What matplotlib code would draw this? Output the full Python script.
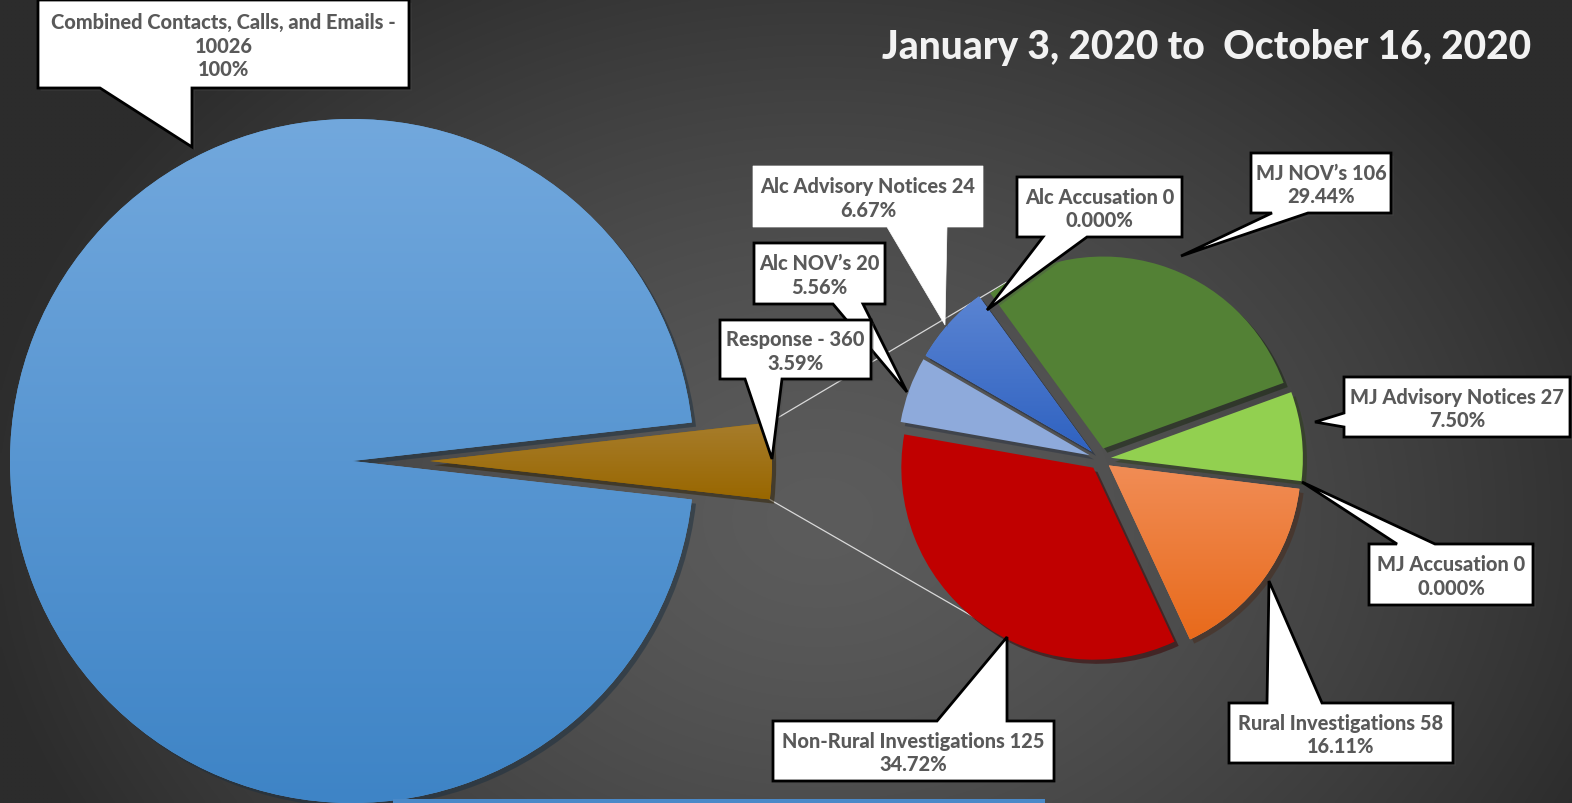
import numpy as np
import matplotlib
matplotlib.use("Agg")
import matplotlib.pyplot as plt
from matplotlib.patches import Polygon, Rectangle
from matplotlib.colors import LinearSegmentedColormap
import matplotlib.patheffects as pe

# --- data ---
title = "January 3, 2020 to  October 16, 2020"
combined_name = "Combined Contacts, Calls, and Emails -"
combined_total = 10026
response_name = "Response"
response_total = 360

small_names = ["Non-Rural Investigations", "Rural Investigations", "MJ Accusation",
               "MJ Advisory Notices", "MJ NOV\u2019s", "Alc Accusation",
               "Alc Advisory Notices", "Alc NOV\u2019s"]
small_values = [125, 58, 0, 27, 106, 0, 24, 20]
small_colors = ["#c00000", ("#f18d56", "#e86a1b"), "#a5a5a5", "#92d050", "#538135",
                "#70ad47", ("#5a84d2", "#2f62c1"), "#8eaadb"]

W, H = 1572, 804
FONT = "Lato"
TXT = "#595959"


def Y(y):
    # image row -> data y
    return H - y


def grad_fill(ax, wedge, top, bottom, z):
    bb = wedge.get_path().get_extents()
    cmap = LinearSegmentedColormap.from_list("g", [bottom, top])
    im = ax.imshow(np.linspace(0, 1, 256)[:, None], extent=(bb.x0, bb.x1, bb.y0, bb.y1),
                   origin="lower", cmap=cmap, aspect="auto", zorder=z, interpolation="bilinear")
    im.set_clip_path(wedge)


def callout(ax, box, side, base, tip, text, border=True):
    # box, base and tip in image pixels (y down)
    x0, y0, x1, y1 = box
    a, b = base
    pts = [(x0, y0)]
    if side == "top":
        pts += [(a, y0), tip, (b, y0)]
    pts += [(x1, y0), (x1, y1)]
    if side == "bottom":
        pts += [(b, y1), tip, (a, y1)]
    pts += [(x0, y1)]
    if side == "left":
        pts += [(x0, b), tip, (x0, a)]
    pts = [(px, Y(py)) for px, py in pts]
    poly = Polygon(pts, closed=True, facecolor="white",
                   edgecolor="black" if border else "white",
                   linewidth=2.0 if border else 0.5, zorder=10, joinstyle="miter")
    poly.set_path_effects([pe.SimplePatchShadow(offset=(2, -2), alpha=0.35), pe.Normal()])
    ax.add_patch(poly)
    ax.text((x0 + x1) / 2, Y((y0 + y1) / 2) - 1, text, ha="center", va="center",
            multialignment="center", color=TXT, fontsize=14.4, fontweight=900,
            family=FONT, linespacing=1.3, zorder=11)


def pct(v, total):
    return "0.000%" if v == 0 else f"{v / total * 100:.2f}%"


fig = plt.figure(figsize=(W / 100, H / 100), dpi=100)
ax = fig.add_axes([0, 0, 1, 1])

# background radial gradient
gx, gy = np.meshgrid(np.linspace(0, W, 393), np.linspace(0, H, 201))
r = np.sqrt(((gx - 820) / 850) ** 2 + ((gy - (H - 520)) / 650) ** 2)
v = (92 - 48 * np.clip(r, 0, 1) ** 1.4) / 255
bg = np.dstack([v, v, v])
ax.imshow(bg, extent=(0, W, 0, H), origin="lower", aspect="auto", zorder=0,
          interpolation="bilinear")

shadow = [pe.SimplePatchShadow(offset=(3, -3), alpha=0.5), pe.Normal()]

# big pie (explode is in data units here, so scale by radius)
big_r = 342
big_c = (352, Y(462))
resp_frac = response_total / combined_total
big_vals = [response_total, combined_total - response_total]
wedges_big, _ = ax.pie(big_vals, center=big_c, radius=big_r, startangle=-resp_frac * 180,
                       explode=[0.228 * big_r, 0], colors=["#9e6c00", "#5b9bd5"],
                       wedgeprops=dict(linewidth=0), frame=True)
for w in wedges_big:
    w.set_zorder(2)
    w.set_path_effects(shadow)
grad_fill(ax, wedges_big[1], "#72a8dd", "#3e84c6", 2.5)
grad_fill(ax, wedges_big[0], "#a77d2c", "#996700", 2.5)

# small pie
small_r = 192
small_c = (1100, Y(460))
total_small = sum(small_values)
fills = [c if isinstance(c, str) else c[0] for c in small_colors]
wedges_small, _ = ax.pie(small_values, center=small_c, radius=small_r, startangle=170,
                         explode=[0.057 * small_r] * len(small_values), colors=fills,
                         wedgeprops=dict(linewidth=0), frame=True)
for w, c in zip(wedges_small, small_colors):
    w.set_zorder(2)
    w.set_path_effects(shadow)
    if not isinstance(c, str):
        grad_fill(ax, w, c[0], c[1], 2.5)

# connector lines from the response wedge to the small pie
gw = wedges_big[0]
gcx, gcy = gw.center
for ang_big, ang_small in [(gw.theta2, 118), (gw.theta1, 239)]:
    p0 = (gcx + big_r * np.cos(np.radians(ang_big)), gcy + big_r * np.sin(np.radians(ang_big)))
    p1 = (small_c[0] + 200 * np.cos(np.radians(ang_small)),
          small_c[1] + 200 * np.sin(np.radians(ang_small)))
    ax.plot([p0[0], p1[0]], [p0[1], p1[1]], color="#d9d9d9", lw=0.9, zorder=1.5)

# thin blue strip at bottom
ax.add_patch(Rectangle((393, 0), 652, 4, facecolor="#4a89c8", edgecolor="none", zorder=3))

# callouts (box x0, y0, x1, y1 in image pixels)
layout = {
    "Non-Rural Investigations": ((773, 722, 1054, 782), "top", (937, 1007), (1007, 638)),
    "Rural Investigations": ((1229, 704, 1453, 764), "top", (1267, 1322), (1269, 582)),
    "MJ Accusation": ((1369, 545, 1533, 606), "top", (1397, 1435), (1302, 483)),
    "MJ Advisory Notices": ((1344, 378, 1570, 438), "left", (414, 428), (1315, 423)),
    "MJ NOV\u2019s": ((1251, 154, 1391, 214), "bottom", (1272, 1308), (1181, 257)),
    "Alc Accusation": ((1017, 178, 1182, 238), "bottom", (1043, 1087), (987, 311)),
    "Alc Advisory Notices": ((753, 167, 983, 228), "bottom", (887, 947), (945, 326)),
    "Alc NOV\u2019s": ((754, 244, 885, 305), "bottom", (833, 863), (907, 393)),
}
for name, val in zip(small_names, small_values):
    box, side, base, tip = layout[name]
    callout(ax, box, side, base, tip, f"{name} {val}\n{pct(val, total_small)}",
            border=(name != "Alc Advisory Notices"))

callout(ax, (720, 321, 871, 380), "bottom", (745, 782), (772, 460),
        f"{response_name} - {response_total}\n{pct(response_total, combined_total)}")
callout(ax, (38, 1, 409, 89), "bottom", (100, 192), (192, 148),
        f"{combined_name}\n{combined_total}\n100%")

ax.text(1207, Y(48), title, ha="center", va="center", color="#f2f2f2", fontsize=28,
        fontweight=900, family=FONT, zorder=11)

ax.set_xlim(0, W)
ax.set_ylim(0, H)
ax.set_aspect("equal")
ax.axis("off")
fig.savefig("out.png", dpi=100)
